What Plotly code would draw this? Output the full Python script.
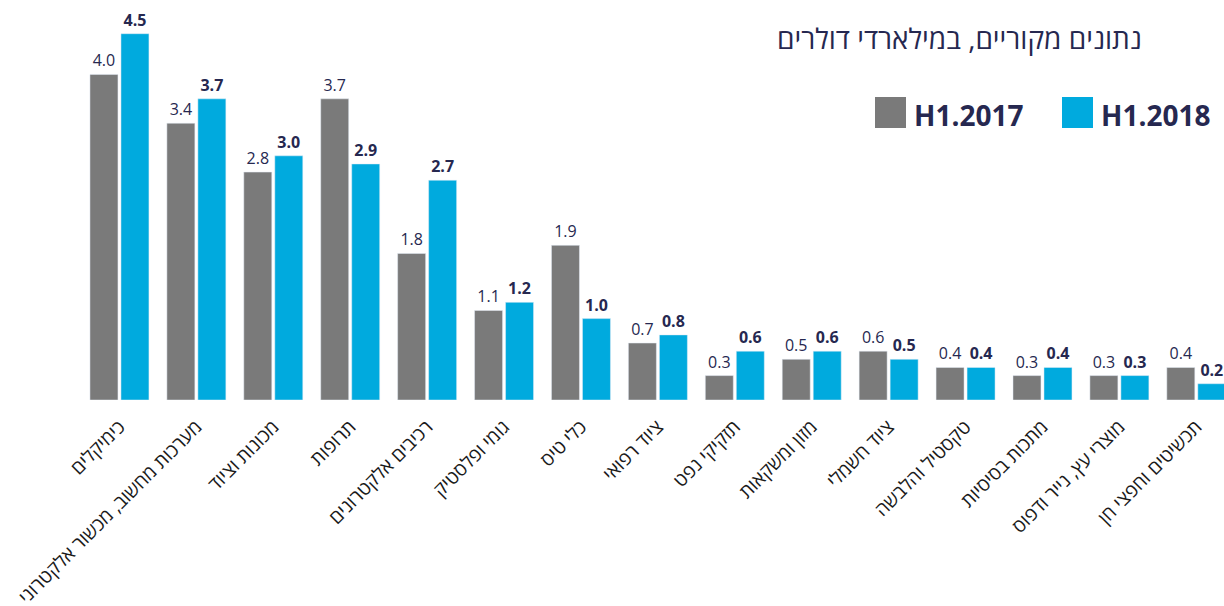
import plotly.graph_objects as go

categories = [
    "כימיקלים",
    "מערכות מחשוב, מכשור אלקטרוני",
    "מכונות וציוד",
    "תרופות",
    "רכיבים אלקטרונים",
    "גומי ופלסטיק",
    "כלי טיס",
    "ציוד רפואי",
    "תזקיקי נפט",
    "מזון ומשקאות",
    "ציוד חשמלי",
    "טקסטיל והלבשה",
    "מתכות בסיסיות",
    "מוצרי עץ, נייר ודפוס",
    "תכשיטים וחפצי חן",
]
h1_2017 = [4.0, 3.4, 2.8, 3.7, 1.8, 1.1, 1.9, 0.7, 0.3, 0.5, 0.6, 0.4, 0.3, 0.3, 0.4]
h1_2018 = [4.5, 3.7, 3.0, 2.9, 2.7, 1.2, 1.0, 0.8, 0.6, 0.6, 0.5, 0.4, 0.4, 0.3, 0.2]
series_names = ["H1.2017", "H1.2018"]
title_text = "נתונים מקוריים, במילארדי דולרים"

GRAY = "#7a7a7a"
BLUE = "#00aade"
NAVY = "#262850"
FONT = "'Open Sans', 'Liberation Sans', 'DejaVu Sans', sans-serif"

x_idx = list(range(len(categories)))

W, H = 1224, 606
l, r, t, b = 81, 0, 20, 606 - 400
pw, ph = W - l - r, H - t - b
PX_PER_UNIT = 81.4

fig = go.Figure()
fig.add_trace(go.Bar(
    x=x_idx, y=h1_2017, name=series_names[0], marker_color=GRAY,
    text=[f"{v:.1f}" for v in h1_2017], textposition="outside",
    textfont=dict(size=16, color=NAVY, family=FONT), cliponaxis=False,
))
fig.add_trace(go.Bar(
    x=x_idx, y=h1_2018, name=series_names[1], marker_color=BLUE,
    text=[f"<b>{v:.1f}</b>" for v in h1_2018], textposition="outside",
    textfont=dict(size=16, color=NAVY, family=FONT), cliponaxis=False,
))

fig.update_layout(
    width=W, height=H,
    margin=dict(l=l, r=r, t=t, b=b, autoexpand=False),
    barmode="group", bargap=0.194, bargroupgap=0.097,
    plot_bgcolor="white", paper_bgcolor="white",
    showlegend=False,
    font=dict(family=FONT, color=NAVY),
    xaxis=dict(
        tickmode="array", tickvals=x_idx, ticktext=categories,
        tickangle=-45, tickfont=dict(size=19, color="#1a1a1a", family=FONT),
        ticklabelstandoff=11,
        range=[-0.5, 14.36], showgrid=False, showline=False, ticks="",
        zeroline=False, automargin=False,
    ),
    yaxis=dict(range=[0, ph / PX_PER_UNIT], visible=False),
)


def px(xp):
    return (xp - l) / pw


def py(yp):
    return (H - b - yp) / ph


shapes = []
for sx, col in [(875, GRAY), (1062, BLUE)]:
    shapes.append(dict(type="rect", xref="paper", yref="paper",
                       x0=px(sx), x1=px(sx + 31), y0=py(128), y1=py(97),
                       fillcolor=col, line_width=0))
annotations = [
    dict(text=f"<b>{series_names[0]}</b>", xref="paper", yref="paper",
         x=px(912), y=py(115), xanchor="left", yanchor="middle", showarrow=False,
         font=dict(size=28, color=NAVY, family=FONT)),
    dict(text=f"<b>{series_names[1]}</b>", xref="paper", yref="paper",
         x=px(1099), y=py(115), xanchor="left", yanchor="middle", showarrow=False,
         font=dict(size=28, color=NAVY, family=FONT)),
    dict(text=title_text, xref="paper", yref="paper",
         x=px(1144), y=py(38), xanchor="right", yanchor="middle", showarrow=False,
         font=dict(size=28, color=NAVY, family=FONT)),
]
fig.update_layout(shapes=shapes, annotations=annotations)

fig.write_html(
    "out.html",
    config={"displayModeBar": False},
    post_script="document.body.style.margin='0';document.body.style.overflow='hidden';",
)
